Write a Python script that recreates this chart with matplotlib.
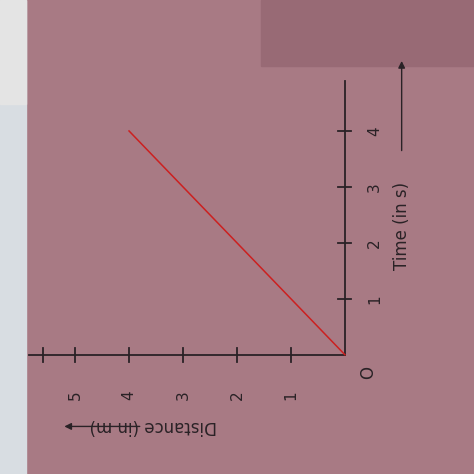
import matplotlib
matplotlib.use("Agg")
import matplotlib.pyplot as plt
from matplotlib.patches import Rectangle

time_s = [0, 4]
distance_m = [0, 4]
dist_ticks = [1, 2, 3, 4, 5]
time_ticks = [1, 2, 3, 4]

fig = plt.figure(figsize=(4.74, 4.74), dpi=100)
fig.patch.set_facecolor("#a87a84")
bg = fig.add_axes([0, 0, 1, 1], zorder=0)
bg.set_xlim(0, 1); bg.set_ylim(0, 1); bg.axis("off")
bg.add_patch(Rectangle((0, 0), 0.055, 1, color="#d8dde2"))
bg.add_patch(Rectangle((0, 0.78), 0.055, 0.22, color="#e4e4e4"))
bg.add_patch(Rectangle((0.55, 0.86), 0.45, 0.14, color="#986a75"))

ax = fig.add_axes([0, 0, 1, 1], zorder=1)
ax.set_facecolor("none")
ax.set_xlim(6.39, -2.39)
ax.set_ylim(-2.13, 6.34)
ax.axis("off")
ink = "#2a2226"
ax.plot([0, 5.85], [0, 0], color=ink, lw=1.3)
ax.plot([0, 0], [0, 4.9], color=ink, lw=1.3)
for d in dist_ticks:
    ax.plot([d, d], [-0.12, 0.12], color=ink, lw=1.3)
    ax.text(d, -0.72, str(d), rotation=90, ha="center", va="center", fontsize=11, color=ink)
ax.plot([5.6, 5.6], [-0.12, 0.12], color=ink, lw=1.3)
for t in time_ticks:
    ax.plot([-0.12, 0.12], [t, t], color=ink, lw=1.3)
    ax.text(-0.55, t, str(t), rotation=90, ha="center", va="center", fontsize=11, color=ink)
ax.text(-0.42, -0.32, "O", rotation=90, ha="center", va="center", fontsize=12, color=ink)
ax.plot(distance_m, time_s, color="#cc2020", lw=1.1)
ax.text(3.55, -1.28, "Distance (in m)", rotation=180, ha="center", va="center", fontsize=12, color=ink)
ax.annotate("", xy=(5.25, -1.28), xytext=(3.75, -1.28),
            arrowprops=dict(arrowstyle="-|>", color=ink, lw=1))
ax.text(-1.05, 2.3, "Time (in s)", rotation=90, ha="center", va="center", fontsize=12, color=ink)
ax.annotate("", xy=(-1.05, 5.3), xytext=(-1.05, 3.6),
            arrowprops=dict(arrowstyle="-|>", color=ink, lw=1))
fig.savefig("out.png", dpi=100, facecolor=fig.get_facecolor())
